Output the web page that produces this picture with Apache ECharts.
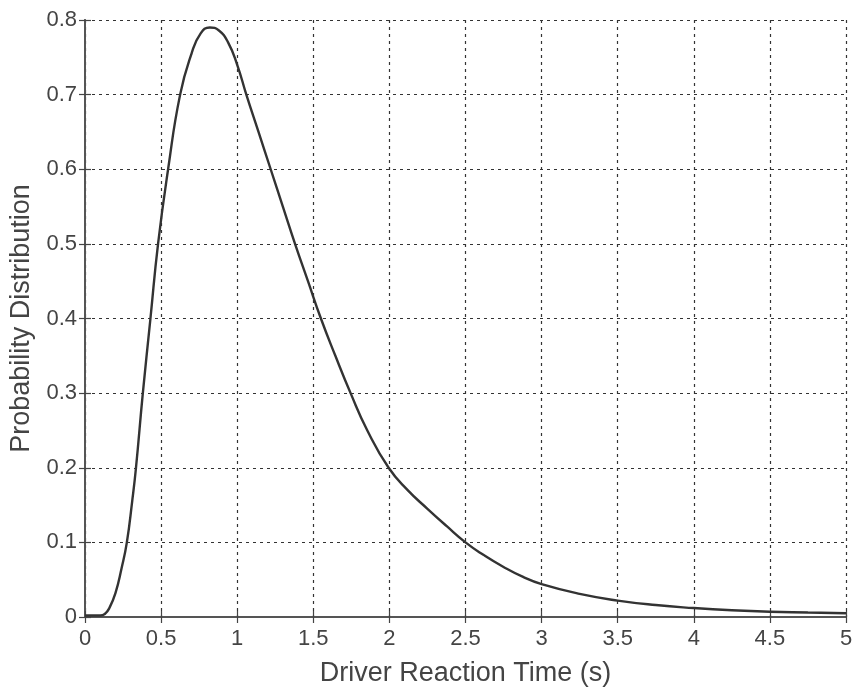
<!DOCTYPE html>
<html>
<head>
<meta charset="utf-8">
<script src="https://cdn.jsdelivr.net/npm/echarts@6/dist/echarts.min.js"></script>
<style>
  html, body { margin: 0; padding: 0; background: #fff; }
  #chart { width: 856px; height: 692px; }
</style>
</head>
<body>
<div id="chart"></div>
<script>
// reaction time (s) and probability density
const timeValues = [0, 0.1, 0.13, 0.16, 0.2, 0.24, 0.275, 0.31, 0.335, 0.38, 0.43, 0.48, 0.546, 0.625, 0.7, 0.76, 0.82, 0.88, 0.94, 1.0, 1.06, 1.14, 1.22, 1.3, 1.38, 1.465, 1.55, 1.645, 1.745, 1.855, 1.995, 2.12, 2.25, 2.375, 2.5, 2.62, 2.75, 2.875, 3.0, 3.25, 3.5, 3.75, 4.0, 4.25, 4.5, 4.75, 5.0]
const densityValues = [0.002, 0.002, 0.004, 0.012, 0.032, 0.065, 0.1, 0.155, 0.2, 0.3, 0.4, 0.5, 0.6, 0.7, 0.755, 0.782, 0.79, 0.786, 0.77, 0.74, 0.7, 0.65, 0.6, 0.55, 0.5, 0.45, 0.4, 0.35, 0.3, 0.25, 0.2, 0.17, 0.145, 0.122, 0.1, 0.083, 0.067, 0.054, 0.044, 0.031, 0.022, 0.016, 0.012, 0.009, 0.007, 0.006, 0.005]
const xTickLabels = ['0', '0.5', '1', '1.5', '2', '2.5', '3', '3.5', '4', '4.5', '5']
const yTickLabels = ['0', '0.1', '0.2', '0.3', '0.4', '0.5', '0.6', '0.7', '0.8']

const chart = echarts.init(document.getElementById('chart'))

const fontFamily = 'Liberation Sans, Arial, sans-serif'
const gridLine = {show: true, lineStyle: {color: '#333', type: [3, 4], width: 1.2}}
const boxLine = {show: true, lineStyle: {color: '#555', width: 1.8}}
const boxTick = {show: true, inside: true, length: 6, lineStyle: {color: '#444', width: 1.2}}

const option = {
  animation: false,
  grid: {left: 85, top: 20, right: 10, bottom: 74},
  xAxis: [
    {
      type: 'value',
      min: 0,
      max: 5,
      interval: 0.5,
      name: 'Driver Reaction Time (s)',
      nameLocation: 'middle',
      nameGap: 43,
      nameTextStyle: {fontSize: 27, color: '#444', fontFamily},
      axisLine: boxLine,
      axisTick: boxTick,
      axisLabel: {
        fontSize: 22, color: '#444', fontFamily, margin: 11,
        formatter: (v) => xTickLabels[Math.round(v * 2)]
      },
      splitLine: gridLine
    },
    {
      type: 'value',
      position: 'top',
      min: 0,
      max: 5,
      interval: 0.5,
      axisLine: boxLine,
      axisTick: boxTick,
      axisLabel: {show: false},
      splitLine: {show: false}
    }
  ],
  yAxis: [
    {
      type: 'value',
      min: 0,
      max: 0.8,
      interval: 0.1,
      name: 'Probability Distribution',
      nameLocation: 'middle',
      nameGap: 47,
      nameTextStyle: {fontSize: 27, color: '#444', fontFamily},
      axisLine: boxLine,
      axisTick: boxTick,
      axisLabel: {
        fontSize: 22, color: '#444', fontFamily, margin: 8,
        formatter: (v) => yTickLabels[Math.round(v * 10)]
      },
      splitLine: gridLine
    },
    {
      type: 'value',
      position: 'right',
      min: 0,
      max: 0.8,
      interval: 0.1,
      axisLine: boxLine,
      axisTick: boxTick,
      axisLabel: {show: false},
      splitLine: {show: false}
    }
  ],
  series: [
    {
      type: 'line',
      data: timeValues.map((t, i) => [t, densityValues[i]]),
      smooth: 0.5,
      showSymbol: false,
      lineStyle: {color: '#333', width: 2.4}
    }
  ]
}

chart.setOption(option)
</script>
</body>
</html>
